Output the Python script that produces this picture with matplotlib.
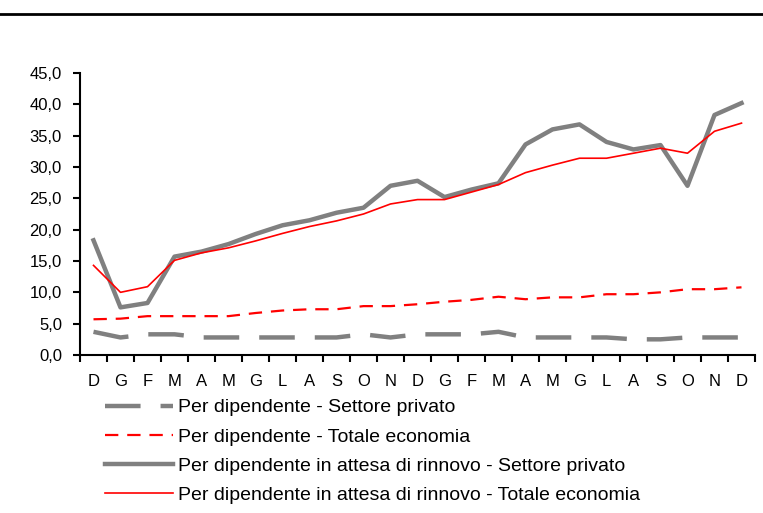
import matplotlib
matplotlib.use("Agg")
import matplotlib.pyplot as plt
from matplotlib.lines import Line2D
from matplotlib.ticker import FuncFormatter, MultipleLocator
import numpy as np

plt.rcParams['font.family'] = ['Liberation Sans', 'DejaVu Sans']

months = ["D", "G", "F", "M", "A", "M", "G", "L", "A", "S", "O", "N",
          "D", "G", "F", "M", "A", "M", "G", "L", "A", "S", "O", "N", "D"]

per_dip_privato = [3.7, 2.8, 3.3, 3.3, 2.8, 2.8, 2.8, 2.8, 2.8, 2.8, 3.3, 2.8,
                   3.3, 3.3, 3.3, 3.7, 2.8, 2.8, 2.8, 2.8, 2.5, 2.5, 2.8, 2.8, 2.8]
per_dip_totale = [5.7, 5.8, 6.2, 6.2, 6.2, 6.2, 6.7, 7.1, 7.3, 7.3, 7.8, 7.8,
                  8.1, 8.5, 8.8, 9.3, 8.9, 9.2, 9.2, 9.7, 9.7, 10.0, 10.5, 10.5, 10.8]
rinnovo_privato = [18.3, 7.6, 8.3, 15.7, 16.5, 17.7, 19.3, 20.7, 21.5, 22.7, 23.5, 27.0,
                   27.8, 25.2, 26.4, 27.4, 33.6, 36.0, 36.8, 34.0, 32.8, 33.5, 27.0, 38.3, 40.2]
rinnovo_totale = [14.3, 10.0, 10.9, 15.1, 16.3, 17.1, 18.2, 19.4, 20.5, 21.4, 22.5, 24.1,
                  24.8, 24.8, 26.0, 27.2, 29.1, 30.3, 31.4, 31.4, 32.2, 33.0, 32.2, 35.7, 37.0]

labels = ["Per dipendente - Settore privato",
          "Per dipendente - Totale economia",
          "Per dipendente in attesa di rinnovo - Settore privato",
          "Per dipendente in attesa di rinnovo - Totale economia"]

fig = plt.figure(figsize=(7.63, 5.13), dpi=100)
ax = fig.add_axes([80/763, 1-355/513, (755-80)/763, (355-73)/513])

x = np.arange(len(months))
grey = "#808080"
red = "#ff0000"
l1, = ax.plot(x, per_dip_privato, color=grey, lw=3.2, dashes=(8, 4.5), solid_capstyle='butt', dash_capstyle='butt')
l2, = ax.plot(x, per_dip_totale, color=red, lw=1.6, dashes=(6, 4))
l3, = ax.plot(x, rinnovo_privato, color=grey, lw=3.2)
l4, = ax.plot(x, rinnovo_totale, color=red, lw=1.2)

ax.set_xlim(-0.5, len(months) - 0.5)
ax.set_ylim(0, 45)
ax.yaxis.set_major_locator(MultipleLocator(5))
ax.yaxis.set_major_formatter(FuncFormatter(lambda v, p: f"{v:.1f}".replace(".", ",")))
ax.set_xticks(x)
ax.set_xticklabels(months)
ax.set_xticks(np.arange(-0.5, len(months), 1), minor=True)
ax.tick_params(axis='x', which='major', length=0, pad=14, labelsize=12)
ax.tick_params(axis='x', which='minor', length=5, width=1.5, direction='out')
ax.tick_params(axis='y', length=5, width=1.5, direction='out', labelsize=12, pad=8)
for s in ['top', 'right']:
    ax.spines[s].set_visible(False)
for s in ['left', 'bottom']:
    ax.spines[s].set_linewidth(1.5)

fig.legend([l1, l2, l3, l4], labels, loc='upper left',
           bbox_to_anchor=(97/763, 1-391/513), frameon=False,
           fontsize=14, handlelength=3.5, handletextpad=0.25,
           labelspacing=0.6, borderaxespad=0)

fig.add_artist(Line2D([0, 1], [1-14/513, 1-14/513], color='black', lw=2, transform=fig.transFigure))

fig.savefig("out.png", dpi=100)
